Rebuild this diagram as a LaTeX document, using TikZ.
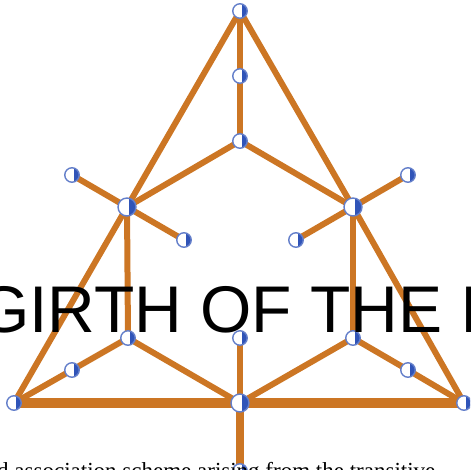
\documentclass[tikz,border=0pt]{standalone}
\usepackage{fontspec}
\setmainfont{Liberation Serif}
\newfontfamily\titlefont{Liberation Sans}
\usetikzlibrary{backgrounds}
\definecolor{edgeorange}{RGB}{204,118,36}
\definecolor{vtxblue}{RGB}{48,84,184}
\begin{document}
\begin{tikzpicture}[
  x=1pt, y=-1pt,
  vtx/.style={circle, draw=vtxblue!75, line width=1.4pt, fill=white, inner sep=0pt, minimum size=14.5pt,
    path picture={\fill[vtxblue] ([xshift=1.5pt]path picture bounding box.north) rectangle (path picture bounding box.south east);}},
  hub/.style={vtx, minimum size=18pt},
  edge/.style={draw=edgeorange, line width=6pt},
  base/.style={edge, line width=9.5pt},
  stem/.style={edge, line width=8pt}
]
\useasboundingbox (0,0) rectangle (470,470);
\clip (0,0) rectangle (470,470);
\node[vtx] (top) at (240,11) {};
\node[vtx] (upper) at (240,76) {};
\node[vtx] (mid) at (240,141) {};
\node[hub] (lefthub) at (127,207) {};
\node[hub] (righthub) at (353,207) {};
\node[vtx] (leftout) at (72,175) {};
\node[vtx] (leftin) at (184,240) {};
\node[vtx] (rightout) at (408,175) {};
\node[vtx] (rightin) at (296,240) {};
\node[vtx] (leftlow) at (128,338) {};
\node[vtx] (centerlow) at (240,338) {};
\node[vtx] (rightlow) at (353,338) {};
\node[vtx] (leftside) at (72,370) {};
\node[vtx] (rightside) at (408,370) {};
\node[vtx] (leftcorner) at (14,403) {};
\node[hub] (basecenter) at (240,403) {};
\node[vtx] (rightcorner) at (464,403) {};
\node[vtx] (foot) at (240,471) {};
\begin{scope}[on background layer]
\draw[base] (leftcorner.center) -- (basecenter.center) -- (rightcorner.center);
\draw[stem] (basecenter.center) -- (foot.center);
\draw[edge] (top.center) -- (lefthub.center) -- (leftcorner.center);
\draw[edge] (top.center) -- (righthub.center) -- (rightcorner.center);
\draw[edge] (top.center) -- (upper.center) -- (mid.center);
\draw[edge] (mid.center) -- (lefthub.center);
\draw[edge] (mid.center) -- (righthub.center);
\draw[edge] (leftout.center) -- (lefthub.center) -- (leftin.center);
\draw[edge] (rightout.center) -- (righthub.center) -- (rightin.center);
\draw[edge] (lefthub.center) -- (leftlow.center);
\draw[edge] (righthub.center) -- (rightlow.center);
\draw[edge] (leftcorner.center) -- (leftside.center) -- (leftlow.center) -- (basecenter.center);
\draw[edge] (rightcorner.center) -- (rightside.center) -- (rightlow.center) -- (basecenter.center);
\draw[edge] (centerlow.center) -- (basecenter.center);
\end{scope}
\node[anchor=base west, inner sep=0pt, font=\titlefont\fontsize{66}{66}\selectfont] (title) at (-22,332) {GIRTH OF THE I};
\node[anchor=base west, inner sep=0pt, font=\fontsize{23}{23}\selectfont] (caption) at (-3,478) {d association scheme arising from the transitive};
\end{tikzpicture}
\end{document}
